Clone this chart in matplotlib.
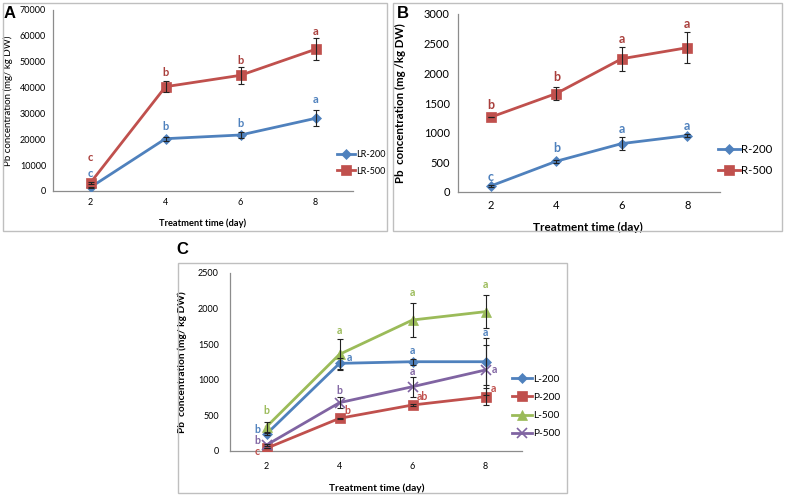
import matplotlib.pyplot as plt
from matplotlib.patches import Rectangle

plt.rcParams['font.family'] = ['Lato', 'DejaVu Sans']

days = [2, 4, 6, 8]

# panel A  LR
lr200 = [1430, 20230, 21660, 28100]
lr200_err = [300, 770, 1030, 3090]
lr500 = [3200, 40340, 44740, 54800]
lr500_err = [300, 2060, 3220, 4330]
lr200_let = ['c', 'b', 'b', 'a']
lr500_let = ['c', 'b', 'b', 'a']

# panel B  root
r200 = [101, 518, 816, 951]
r200_err = [15, 25, 107, 30]
r500 = [1261, 1660, 2246, 2432]
r500_err = [0, 113, 203, 262]
r200_let = ['c', 'b', 'a', 'a']
r500_let = ['b', 'b', 'a', 'a']

# panel C  leaf / petiole
l200 = [239, 1231, 1254, 1254]
l200_err = [20, 80, 45, 330]
p200 = [38, 459, 646, 763]
p200_err = [0, 10, 10, 117]
l500 = [341, 1358, 1840, 1957]
l500_err = [70, 215, 240, 234]
p500 = [84, 679, 903, 1138]
p500_err = [10, 80, 140, 350]
l200_let = ['b', 'a', 'a', 'a']
p200_let = ['c', 'b', 'ab', 'a']
l500_let = ['b', 'a', 'a', 'a']
p500_let = ['b', 'b', 'a', 'a']

BLUE = '#4F81BD'
RED = '#C0504D'
GREEN = '#9BBB59'
PURPLE = '#8064A2'
RED_TXT = '#A93F3C'

W, H = 787, 496
fig = plt.figure(figsize=(W / 100, H / 100), dpi=100)


def px_box(x0, y0, x1, y1):
    fig.patches.append(Rectangle((x0 / W, 1 - y1 / H), (x1 - x0) / W, (y1 - y0) / H,
                                 transform=fig.transFigure, fill=False,
                                 edgecolor='#BFBFBF', lw=1.0))


def make_axes(x0, y0, x1, y1):
    ax = fig.add_axes([x0 / W, 1 - y1 / H, (x1 - x0) / W, (y1 - y0) / H])
    for s in ['top', 'right']:
        ax.spines[s].set_visible(False)
    for s in ['left', 'bottom']:
        ax.spines[s].set_color('#8C8C8C')
        ax.spines[s].set_linewidth(0.9)
    ax.tick_params(length=0)
    ax.set_xlim(1, 9)
    ax.set_xticks(days)
    return ax


def series(ax, y, err, color, marker, ms, label, letters, offs, lcolor, fs):
    ax.plot(days, y, color=color, lw=2, marker=marker, ms=ms, label=label,
            mew=1.2 if marker == 'x' else 0.5, mec=color, zorder=3)
    ax.errorbar(days, y, yerr=err, fmt='none', ecolor='#222222',
                elinewidth=0.8, capsize=2.2, capthick=0.8, zorder=4)
    for xi, yi, t, (dx, dy) in zip(days, y, letters, offs):
        ax.annotate(t, (xi, yi), xytext=(dx * 0.72, dy * 0.72), textcoords='offset points',
                    ha='center', va='center', color=lcolor, fontsize=fs, fontweight='bold')


# ---------------- A ----------------
px_box(3, 3, 387, 231)
axA = make_axes(53, 10, 353, 191)
axA.set_ylim(0, 70000)
axA.set_yticks(range(0, 70001, 10000))
axA.tick_params(labelsize=6.5, pad=5)
series(axA, lr200, lr200_err, BLUE, 'D', 5, 'LR-200', lr200_let,
       [(0, 14), (0, 12), (0, 11), (0, 19)], BLUE, 8)
series(axA, lr500, lr500_err, RED, 's', 6.5, 'LR-500', lr500_let,
       [(0, 25), (0, 14), (0, 15), (0, 18)], RED_TXT, 8)
axA.set_ylabel('Pb concentration (mg/ kg DW)', fontsize=7)
axA.yaxis.set_label_coords(-0.133, 0.5)
axA.set_xlabel('Treatment time (day)', fontsize=6.7, fontweight='bold')
axA.xaxis.set_label_coords(0.5, -0.15)
axA.legend(loc='center left', bbox_to_anchor=(337 / W, 1 - 163 / H), bbox_transform=fig.transFigure,
           frameon=False, fontsize=6.5, handlelength=2.0, handletextpad=0.1,
           borderpad=0, borderaxespad=0, labelspacing=0.8)
fig.text(10 / W, 1 - 13 / H, 'A', fontsize=12, fontweight='bold', family='Liberation Sans',
         ha='center', va='center')

# ---------------- B ----------------
px_box(393, 3, 782, 231)
axB = make_axes(458, 14, 720, 192)
axB.set_ylim(0, 3000)
axB.set_yticks(range(0, 3001, 500))
axB.tick_params(labelsize=8, pad=6)
series(axB, r200, r200_err, BLUE, 'D', 5.5, 'R-200', r200_let,
       [(0, 9), (0, 13), (0, 15), (0, 10)], BLUE, 9)
series(axB, r500, r500_err, RED, 's', 7.5, 'R-500', r500_let,
       [(0, 12), (0, 17), (0, 20), (0, 24)], RED_TXT, 9)
axB.set_ylabel('Pb  concentration (mg /kg DW)', fontsize=8.3, fontweight='bold')
axB.yaxis.set_label_coords(-0.198, 0.5)
axB.set_xlabel('Treatment time (day)', fontsize=8.5, fontweight='bold')
axB.xaxis.set_label_coords(0.496, -0.17)
axB.legend(loc='center left', bbox_to_anchor=(718 / W, 1 - 160 / H), bbox_transform=fig.transFigure,
           frameon=False, fontsize=8.2, handlelength=1.9, handletextpad=0.1,
           borderpad=0, borderaxespad=0, labelspacing=0.8)
fig.text(403 / W, 1 - 13 / H, 'B', fontsize=12, fontweight='bold', family='Liberation Sans',
         ha='center', va='center')

# ---------------- C ----------------
px_box(178, 263, 567, 493)
axC = make_axes(230, 273, 522, 451)
axC.set_ylim(0, 2500)
axC.set_yticks(range(0, 2501, 500))
axC.tick_params(labelsize=6.5, pad=8)
series(axC, l200, l200_err, BLUE, 'D', 5.5, 'L-200', l200_let,
       [(-9, 4), (10, 6), (0, 11), (0, 29)], BLUE, 7.6)
series(axC, p200, p200_err, RED, 's', 6.5, 'P-200', p200_let,
       [(-9, -3), (8, 8), (10, 9), (8, 8)], RED, 7.6)
series(axC, l500, l500_err, GREEN, '^', 6.5, 'L-500', l500_let,
       [(0, 16), (0, 24), (0, 27), (0, 27)], GREEN, 7.6)
series(axC, p500, p500_err, PURPLE, 'x', 6.5, 'P-500', p500_let,
       [(-9, 5), (0, 12), (0, 15), (9, 0)], PURPLE, 7.6)
axC.set_ylabel('Pb  concentration (mg/ kg DW)', fontsize=7.3, fontweight='bold')
axC.yaxis.set_label_coords(-0.147, 0.5)
axC.set_xlabel('Treatment time (day)', fontsize=7.3, fontweight='bold')
axC.xaxis.set_label_coords(0.503, -0.18)
axC.legend(loc='center left', bbox_to_anchor=(512 / W, 1 - 406.5 / H), bbox_transform=fig.transFigure,
           frameon=False, fontsize=7.3, handlelength=2.0, handletextpad=0.1,
           borderpad=0, borderaxespad=0, labelspacing=0.9)
fig.text(182 / W, 1 - 250 / H, 'C', fontsize=12, fontweight='bold', family='Liberation Sans',
         ha='center', va='center')

fig.savefig('out.png', dpi=100)
